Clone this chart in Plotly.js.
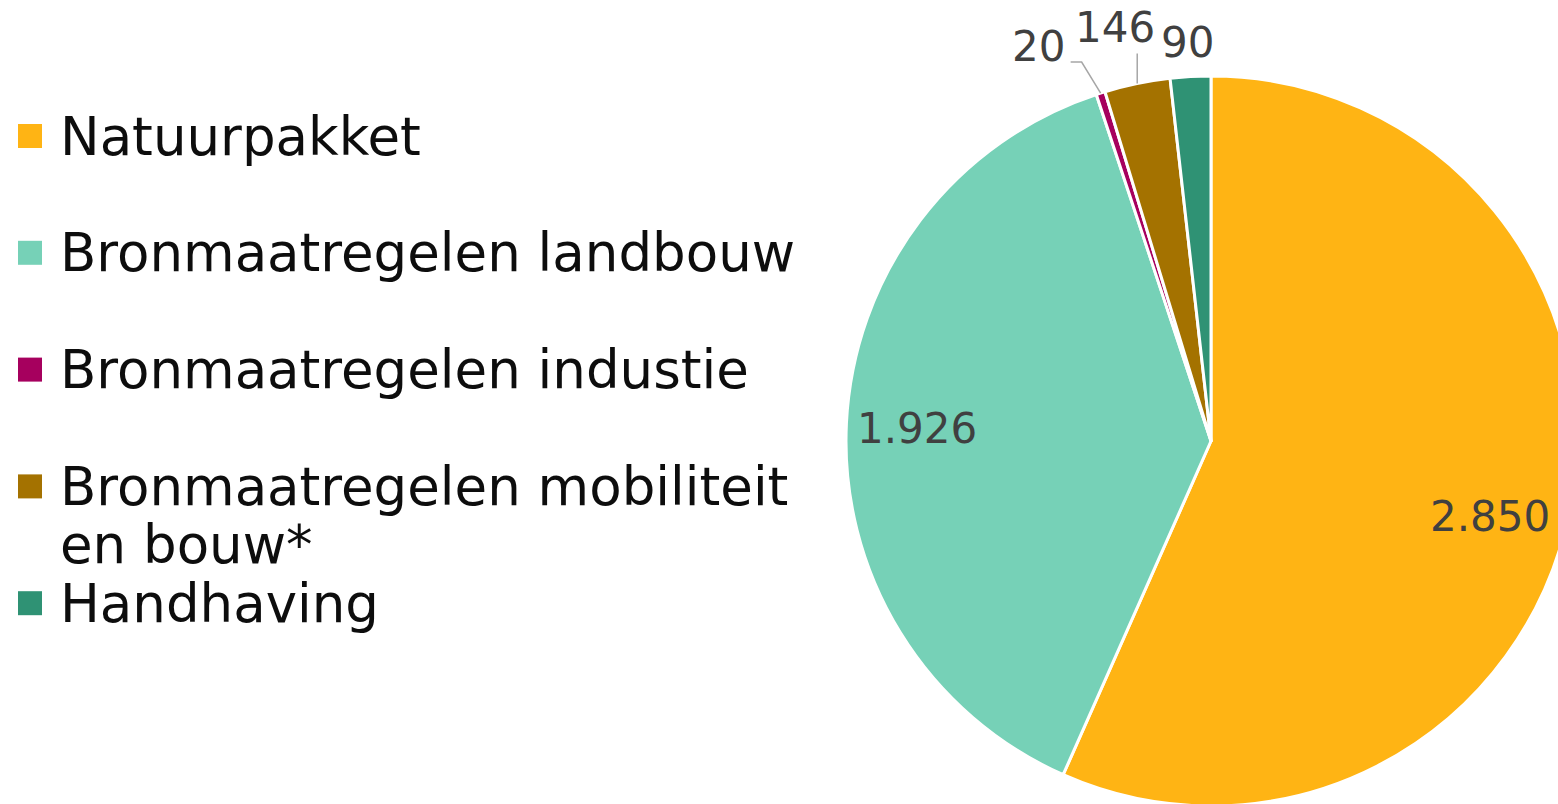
<!DOCTYPE html>
<html><head><meta charset="utf-8">
<script src="https://cdn.plot.ly/plotly-3.0.1.min.js"></script>
<style>html,body{margin:0;padding:0;overflow:hidden;background:#fff}#chart{width:1600px;height:820px}</style>
</head><body><div id="chart"></div><script>
// ---- data ----
const categories = ["Natuurpakket", "Bronmaatregelen landbouw", "Bronmaatregelen industie", "Bronmaatregelen mobiliteit\nen bouw*", "Handhaving"];
const values = [2850, 1926, 20, 146, 90];
const colors = ["#FFB414", "#76D1B7", "#A6005E", "#A47200", "#2F9274"];

// ---- layout constants (pixels) ----
const W = 1600, H = 820;
const CX = 1211, CY = 441, R = 365;
const FONT = "DejaVu Sans, Verdana, sans-serif";
const px = p => p / W;
const py = p => 1 - p / H;
const fmt = v => String(v).replace(/\B(?=(\d{3})+(?!\d))/g, '.');

// label placement: inside labels at 0.8R on bisector, outside at edge
const labelMode = ["in", "in", "out", "out", "out"];
const labelOffset = [[-7, 15], [-2, 2], [-62, -47], [-22, -56], [-3, -34]];
const leaders = [null, null, [[-19, -31], [-30, -31]], [[0, -30]], null];

const total = values.reduce((a, b) => a + b, 0);
let cum = 0;
const annotations = [];
const shapes = [];
values.forEach((v, i) => {
  const mid = (cum + v / 2) / total * 2 * Math.PI;
  cum += v;
  const r = labelMode[i] === "in" ? 0.8 * R : R;
  const ax = CX + r * Math.sin(mid), ay = CY - r * Math.cos(mid);
  annotations.push({
    xref: 'paper', yref: 'paper', x: px(ax + labelOffset[i][0]), y: py(ay + labelOffset[i][1]),
    xanchor: 'center', yanchor: 'middle', showarrow: false, text: fmt(v),
    font: {family: FONT, size: 42, color: '#404040'}
  });
  if (leaders[i]) {
    let d = `M${px(ax)},${py(ay)}`;
    leaders[i].forEach(o => { d += ` L${px(ax + o[0])},${py(ay + o[1])}`; });
    shapes.push({type: 'path', xref: 'paper', yref: 'paper', path: d, line: {color: '#A6A6A6', width: 1.5}});
  }
});

// manual legend
const legendTop = 136, legendStep = 116.8, lineStep = 58;
categories.forEach((c, i) => {
  const y = legendTop + i * legendStep;
  shapes.push({type: 'rect', xref: 'paper', yref: 'paper', x0: px(18), x1: px(42), y0: py(y + 12), y1: py(y - 12),
    fillcolor: colors[i], line: {width: 0}});
  c.split('\n').forEach((line, j) => {
    annotations.push({xref: 'paper', yref: 'paper', x: px(58), y: py(y + j * lineStep), xanchor: 'left', yanchor: 'middle',
      showarrow: false, text: line, font: {family: FONT, size: 53, color: '#0D0D0D'}});
  });
});

const trace = {
  type: 'pie', values: values, labels: categories.map(c => c.replace('\n', ' ')),
  marker: {colors: colors, line: {color: '#FFFFFF', width: 3}},
  sort: false, direction: 'clockwise', rotation: 0, textinfo: 'none', hoverinfo: 'none',
  showlegend: false,
  domain: {x: [px(CX - R), px(CX + R)], y: [py(CY + R), py(CY - R)]}
};

Plotly.newPlot('chart', [trace], {
  width: W, height: H, margin: {l: 0, r: 0, t: 0, b: 0},
  paper_bgcolor: '#FFFFFF', showlegend: false,
  annotations: annotations, shapes: shapes
}, {displayModeBar: false, staticPlot: true});
</script></body></html>
